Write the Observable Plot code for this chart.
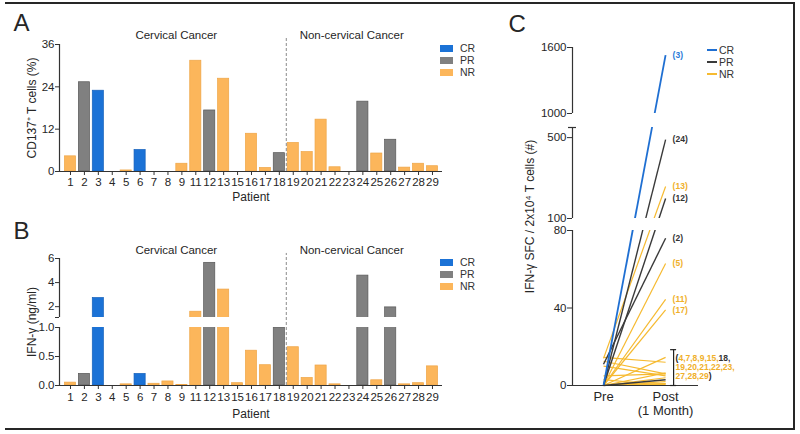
<!DOCTYPE html>
<html><head><meta charset="utf-8">
<script src="https://cdn.jsdelivr.net/npm/d3@7"></script>
<script src="https://cdn.jsdelivr.net/npm/@observablehq/plot@0.6"></script>
<style>
html,body{margin:0;padding:0;background:#fff;}
#wrap{position:relative;width:800px;height:434px;overflow:hidden;background:#fff;}
#wrap > svg, #wrap > .pl{position:absolute;}
#border{position:absolute;left:5px;top:2px;width:790px;height:428px;box-sizing:border-box;border-top:2px solid #262626;border-right:2px solid #262626;border-bottom:2px solid #262626;}
.leg{position:absolute;}
.leg div{font-family:"Liberation Sans",Arial,sans-serif !important;font-size:10.5px !important;line-height:12px !important;color:#333 !important;margin:0 !important;}
.leg > div > div{height:12px !important;padding:0 !important;}
.legBar svg{margin-right:7px !important;}
.legLine svg{margin-right:2px !important;}
</style>
</head><body><div id="wrap"><div id="border"></div></div>
<script>
// ---------- data ----------
const patients   = [1,2,3,4,5,6,7,8,9,11,12,13,15,16,17,18,19,20,21,22,23,24,25,26,27,28,29];
const cancerType = ["Cervical","Cervical","Cervical","Cervical","Cervical","Cervical","Cervical","Cervical","Cervical","Cervical","Cervical","Cervical","Cervical","Cervical","Cervical","Cervical",
                    "Non-cervical","Non-cervical","Non-cervical","Non-cervical","Non-cervical","Non-cervical","Non-cervical","Non-cervical","Non-cervical","Non-cervical","Non-cervical"];
const response   = ["NR","PR","CR","NR","NR","CR","NR","NR","NR","NR","PR","NR","NR","NR","NR","PR","NR","NR","NR","NR","NR","PR","NR","PR","NR","NR","NR"];
const cd137      = [4.3,25.3,22.9,0,0.3,6.1,0,0,2.2,31.4,17.3,26.3,0,10.7,1.0,5.2,8.1,5.5,14.7,1.2,0,19.8,5.1,9.0,1.1,2.2,1.5];
const ifng       = [0.05,0.2,2.72,0,0.02,0.2,0.03,0.07,0.01,1.58,5.64,3.42,0.04,0.6,0.35,1.0,0.66,0.13,0.345,0.02,0,4.58,0.09,1.94,0.02,0.04,0.33];
const groups     = ["CR","PR","NR"];
const cdTicks    = [0,12,24,36];
const ifnTicks   = [0,0.5,1,2,4,6];

const timepoints = ["Pre","Post\n(1 Month)"];
const elPatients = [3,24,13,12,2,5,11,17,4,7,8,9,15,18,19,20,21,22,23,27,28,29];
const elPre      = [0,0,14,0,11,0,0,0,0,14.5,12.5,10,0,0,5,0,0,0,0,3,0,0];
const elPost     = [1530,490,258,199,76,63,44.5,39,0,12,6,5,14.5,3,6,2,6.5,0.5,1,0,4,1];
const elLabeled  = [3,24,13,12,2,5,11,17];
const elGrouped  = [4,7,8,9,15,18,19,20,21,22,23,27,28,29];
const elTicks    = [0,40,80,100,500,1000,1600];

// ---------- style ----------
const fam = '"Liberation Sans", Arial, Helvetica, sans-serif';
const barFill   = {CR:"#1b72d6", PR:"#808080", NR:"#fcb65b"};
const barStroke = {CR:"#1762bb", PR:"#585858", NR:"#eea547"};
const lineCol   = {CR:"#1f6fd2", PR:"#3a3a3a", NR:"#f6ba30"};
const lineW     = {CR:1.8, PR:1.4, NR:1.2};
const labCol    = {CR:"#2a7bd8", PR:"#333333", NR:"#f0b02a"};
const axisCol = "#333";
const baseStyle = {background:"transparent", fontFamily: fam, fontSize:"11.5px", color:"#262626", overflow:"visible"};

const rows = patients.map((p,i)=>({i, patient:p, type:cancerType[i], resp:response[i], cd137:cd137[i], ifng:ifng[i]}));
const respOf = new Map(patients.map((p,i)=>[p, response[i]]));
const xDom = [-0.79, 26.72];
const sepX = rows.findIndex(d => d.type === "Non-cervical") - 0.5;
const typeLabels = [{name:"Cervical Cancer", x:7.6},{name:"Non-cervical Cancer", x:20.2}];
const wrap = document.getElementById("wrap");
function place(el, left, top){ el.style.position="absolute"; el.style.left=left+"px"; el.style.top=top+"px"; wrap.appendChild(el); }

// ---------- Panel A ----------
const plotA = Plot.plot({
  width:490, height:210, marginLeft:59, marginRight:48, marginTop:44, marginBottom:39,
  style: baseStyle,
  x:{domain:xDom}, y:{domain:[0,36]},
  marks:[
    Plot.rect(rows.filter(d=>d.cd137>0), {x1:d=>d.i-0.4, x2:d=>d.i+0.4, y1:0, y2:"cd137", fill:d=>barFill[d.resp], stroke:d=>barStroke[d.resp], strokeWidth:0.7}),
    Plot.ruleX([sepX], {y1:0, y2:37.7, stroke:"#8a8a8a", strokeDasharray:"3,2", strokeWidth:1}),
    Plot.ruleY([0], {stroke:axisCol, strokeWidth:1.2}),
    Plot.ruleX([xDom[0]], {stroke:axisCol, strokeWidth:1.2}),
    Plot.axisX({ticks:rows.map(d=>d.i), tickFormat:i=>patients[i], tickSize:4, tickPadding:2, label:null, stroke:axisCol}),
    Plot.axisY({ticks:cdTicks, tickSize:4, tickPadding:1, label:null, stroke:axisCol}),
    Plot.text(["CD137\u207A T cells (%)"], {frameAnchor:"left", dx:-27, rotate:-90, textAnchor:"middle", fontSize:12}),
    Plot.text(["Patient"], {frameAnchor:"bottom", dy:29, fontSize:12}),
    Plot.text(typeLabels, {x:"x", text:"name", frameAnchor:"top", dy:-14}),
    Plot.text(["A"], {frameAnchor:"top-left", dx:-46, dy:-14, textAnchor:"start", lineAnchor:"bottom", fontSize:24})
  ]
});
place(plotA, 0, 0);

// ---------- Panel B ----------
const plotB = Plot.plot({
  width:490, height:229, marginLeft:59, marginRight:48, marginTop:53, marginBottom:49,
  style: baseStyle,
  x:{domain:xDom},
  y:{type:"linear", domain:[0,1,1.1,6], range:[180,122,112,53]},
  marks:[
    Plot.rect(rows.filter(d=>d.ifng>0), {x1:d=>d.i-0.4, x2:d=>d.i+0.4, y1:0, y2:"ifng", fill:d=>barFill[d.resp], stroke:d=>barStroke[d.resp], strokeWidth:0.7}),
    Plot.rect([{y1:1, y2:1.1}], {x1:xDom[0], x2:xDom[1], y1:"y1", y2:"y2", fill:"white"}),
    Plot.ruleX([sepX], {y1:0, y2:6.42, stroke:"#8a8a8a", strokeDasharray:"3,2", strokeWidth:1}),
    Plot.ruleY([0], {stroke:axisCol, strokeWidth:1.2}),
    Plot.ruleX([{y1:0,y2:1},{y1:1.1,y2:6}], {x:xDom[0], y1:"y1", y2:"y2", stroke:axisCol, strokeWidth:1.2}),
    Plot.axisX({ticks:rows.map(d=>d.i), tickFormat:i=>patients[i], tickSize:4, tickPadding:3, label:null, stroke:axisCol}),
    Plot.axisY({ticks:[...ifnTicks, 1.1], tickFormat:d=> d===1.1 ? "" : (d<=1 ? d.toFixed(1) : String(d)), tickSize:4, tickPadding:1, label:null, stroke:axisCol}),
    Plot.text(["IFN-\u03B3 (ng/ml)"], {frameAnchor:"left", dx:-27, rotate:-90, textAnchor:"middle", fontSize:12}),
    Plot.text(["Patient"], {frameAnchor:"bottom", dy:32, fontSize:12}),
    Plot.text(typeLabels, {x:"x", text:"name", frameAnchor:"top", dy:-13}),
    Plot.text(["B"], {frameAnchor:"top-left", dx:-46, dy:-20, textAnchor:"start", lineAnchor:"bottom", fontSize:24})
  ]
});
place(plotB, 0, 205);

// ---------- Panel C ----------
const order = {NR:0, PR:1, CR:2};
const cRows = elPatients.map((p,i)=>({patient:p, resp:respOf.get(p), pre:elPre[i], post:elPost[i]}))
  .sort((a,b)=>order[a.resp]-order[b.resp]);
const xPre = 1, xPost = 2;
const ppu = (698-572)/(2.53-0.5); // px per x unit (layout)
const bracketTop = 18.5;
// grouped-label pieces
const ctx = document.createElement("canvas").getContext("2d");
const listFont = 8.5;
ctx.font = `bold ${listFont}px ${fam}`;
const rowSplit = [6,5,3];
const pieces = [];
{
  let k = 0;
  rowSplit.forEach((n, r) => {
    let off = 0;
    const add = (t, c) => { pieces.push({t, c, r, off}); off += ctx.measureText(t).width; };
    if (r === 0) add("(", "#222");
    for (let j = 0; j < n; j++, k++) {
      const p = elGrouped[k];
      const last = k === elGrouped.length - 1;
      add(String(p) + (last ? "" : ","), labCol[respOf.get(p)]);
      if (last) add(")", "#222");
    }
  });
}
const plotC = Plot.plot({
  width:310, height:434, marginLeft:82, marginRight:102, marginTop:47, marginBottom:49,
  style: baseStyle,
  x:{domain:[0.5,2.53]},
  y:{type:"linear", domain:[0,80,100,550,1000,1600], range:[385,230,218,127,113,47]},
  marks:[
    Plot.link(cRows, {x1:xPre, x2:xPost, y1:"pre", y2:"post", stroke:d=>lineCol[d.resp], strokeWidth:d=>lineW[d.resp]}),
    Plot.rect([{y1:80,y2:100},{y1:550,y2:1000}], {x1:0.5, x2:2.53, y1:"y1", y2:"y2", fill:"white"}),
    Plot.ruleY([0], {stroke:axisCol, strokeWidth:1.2}),
    Plot.ruleX([{y1:0,y2:80},{y1:100,y2:550},{y1:1000,y2:1600}], {x:0.5, y1:"y1", y2:"y2", stroke:axisCol, strokeWidth:1.2}),
    Plot.ruleY([550], {x1:0.5-4/ppu, x2:0.5+4/ppu, stroke:axisCol, strokeWidth:1.2}),
    Plot.axisY({ticks:elTicks, tickFormat:d=>String(d), tickSize:5, tickPadding:1, label:null, stroke:axisCol}),
    Plot.axisX({ticks:[xPre,xPost], tickFormat:i=>timepoints[i-1], tickSize:0, tickPadding:6, fontSize:13, lineHeight:1.05, label:null}),
    Plot.text(["IFN-\u03B3 SFC / 2x10\u2074 T cells (#)"], {frameAnchor:"left", dx:-42, rotate:-90, textAnchor:"middle", fontSize:12}),
    Plot.text(cRows.filter(d=>elLabeled.includes(d.patient)), {x:xPost, y:"post", dx:7, text:d=>`(${d.patient})`, fill:d=>labCol[d.resp], textAnchor:"start", fontSize:listFont, fontWeight:"bold"}),
    Plot.ruleX([xPost + 8/ppu], {y1:0, y2:bracketTop, stroke:"#222", strokeWidth:1.2}),
    Plot.ruleY([0, bracketTop], {x1:xPost + 5/ppu, x2:xPost + 11/ppu, stroke:"#222", strokeWidth:1.2}),
    ...pieces.map(pc => Plot.text([pc.t], {x:()=>xPost, y:()=>0, dx:10 + pc.off, dy:-27 + pc.r*9, textAnchor:"start", fill:pc.c, fontSize:listFont, fontWeight:"bold"})),
    Plot.text(["C"], {frameAnchor:"top-left", dx:-64, dy:-16, textAnchor:"start", lineAnchor:"bottom", fontSize:24})
  ]
});
place(plotC, 490, 0);

// ---------- legends ----------
function legend(cls, colors, sw, sh, left, top){
  const lg = Plot.legend({color:{type:"ordinal", domain:groups, range:groups.map(g=>colors[g])}, columns:1, swatchWidth:sw, swatchHeight:sh});
  const box = document.createElement("div");
  box.className = "leg " + cls;
  box.appendChild(lg);
  place(box, left, top);
}
legend("legBar", barFill, 13, 7, 440, 42);
legend("legBar", barFill, 13, 7, 440, 256);
legend("legLine", lineCol, 10, 2, 707, 44);
</script>
</body></html>
